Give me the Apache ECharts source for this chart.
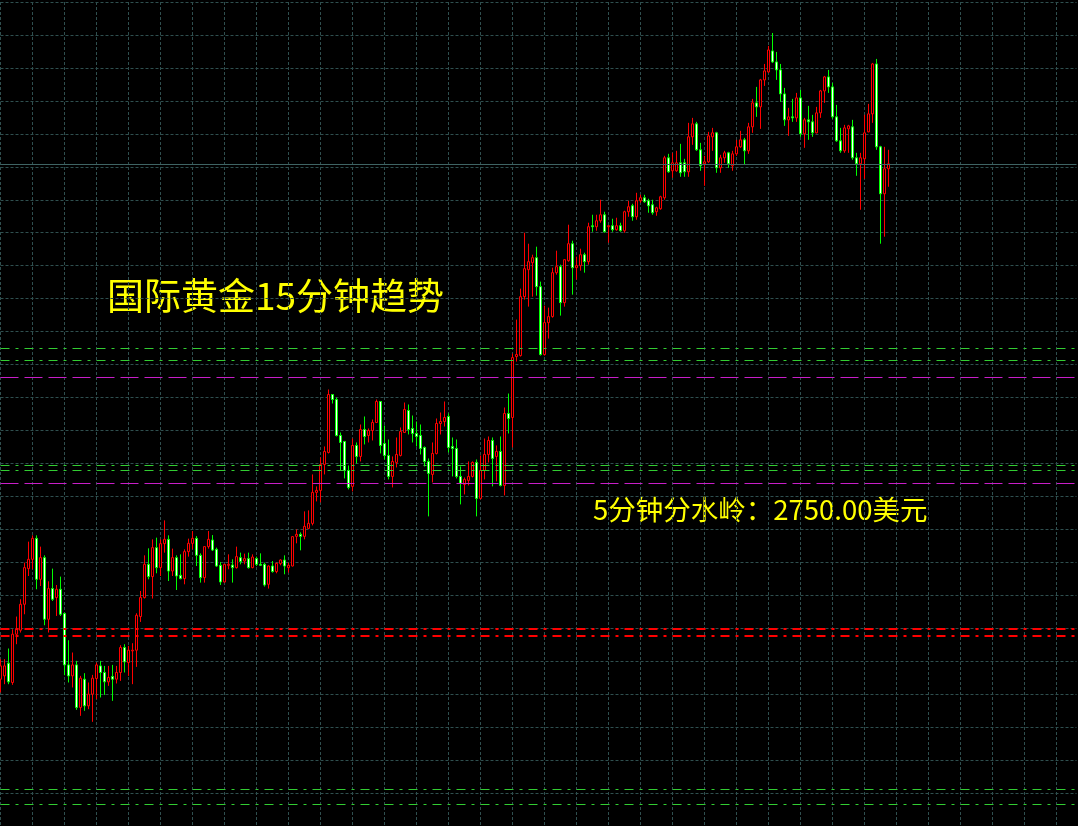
<!DOCTYPE html>
<html>
<head>
<meta charset="utf-8">
<script src="https://cdn.jsdelivr.net/npm/echarts@6/dist/echarts.min.js"></script>
<style>
html,body{margin:0;padding:0;background:#000;}
#chart{width:1078px;height:826px;}
</style>
</head>
<body>
<div id="chart"></div>
<script>
// 15-minute bars (index labels)
const barCount = 270;
const categories = Array.from({length: barCount}, (_, i) => 'B' + i);

const opens = [2733.9,2734.23,2735.5,2733.57,2738.4,2738.8,2741.4,2744.97,2745.9,2748.0,
2743.9,2746.07,2739.9,2742.97,2742.07,2742.9,2740.47,2735.33,2734.23,2735.33,
2731.07,2733.9,2731.23,2732.4,2733.97,2735.23,2734.57,2733.63,2734.17,2733.9,
2734.57,2737.07,2735.57,2736.73,2736.8,2740.17,2742.07,2745.4,2744.17,2747.07,
2745.07,2747.47,2747.9,2744.73,2746.07,2744.3,2743.97,2746.67,2747.5,2748.0,
2746.3,2744.07,2747.17,2747.83,2746.9,2745.3,2743.63,2745.3,2745.33,2745.07,
2746.07,2745.73,2745.97,2745.07,2745.97,2745.4,2745.4,2743.4,2745.23,2744.67,
2745.47,2745.83,2745.07,2745.23,2748.2,2748.4,2748.2,2749.0,2749.5,2752.6,
2752.8,2755.4,2756.6,2762.4,2761.9,2758.3,2757.7,2754.8,2753.2,2757.3,
2756.2,2758.9,2758.3,2758.8,2759.6,2761.7,2757.5,2756.3,2754.2,2755.6,
2756.3,2758.6,2760.8,2759.0,2758.5,2758.3,2757.1,2755.7,2754.4,2756.5,
2759.5,2759.7,2760.2,2757.2,2757.0,2754.2,2753.4,2753.8,2754.2,2755.6,
2752.0,2754.8,2756.4,2757.8,2756.2,2756.7,2753.3,2760.5,2760.1,2766.2,
2766.3,2772.2,2774.9,2775.6,2776.1,2773.2,2766.4,2769.6,2770.2,2774.6,
2775.2,2771.6,2775.8,2777.5,2775.1,2775.3,2776.4,2775.7,2779.3,2779.2,
2779.8,2780.4,2779.2,2779.3,2778.9,2779.3,2778.8,2780.7,2781.3,2780.2,
2781.8,2782.1,2781.8,2781.4,2780.7,2781.0,2782.1,2786.1,2784.8,2784.8,
2785.6,2785.6,2784.7,2788.2,2789.5,2786.9,2785.5,2785.7,2788.2,2788.6,
2785.1,2786.1,2786.6,2785.3,2786.5,2787.2,2787.9,2786.8,2789.2,2791.6,
2791.2,2793.9,2794.7,2796.8,2795.7,2794.9,2792.5,2789.9,2790.2,2790.1,
2792.1,2788.5,2789.9,2789.7,2788.6,2790.6,2792.8,2794.2,2793.2,2790.2,
2787.8,2786.8,2789.0,2789.2,2786.1,2785.5,2786.0,2788.7,2790.5,2795.5,
2787.2,2782.5,2785.0];

const closes = [2735.23,2735.23,2733.63,2738.4,2738.9,2741.4,2745.07,2745.9,2748.0,2743.9,
2746.07,2739.9,2742.97,2741.9,2742.9,2740.4,2735.33,2734.23,2735.33,2731.07,
2734.0,2731.23,2732.4,2734.0,2735.33,2734.57,2733.63,2734.07,2733.9,2734.57,
2737.07,2735.63,2736.8,2736.8,2740.3,2742.07,2745.4,2744.17,2747.07,2745.07,
2747.47,2747.9,2744.73,2746.07,2744.23,2743.97,2746.67,2747.5,2748.0,2746.3,
2744.07,2747.17,2747.9,2746.83,2745.23,2743.63,2745.4,2745.4,2745.07,2746.17,
2745.67,2745.97,2745.07,2746.13,2745.4,2745.3,2743.33,2745.23,2744.67,2745.5,
2745.83,2745.23,2745.3,2748.17,2748.4,2748.2,2749.2,2749.5,2752.6,2752.8,
2755.4,2756.7,2762.4,2761.9,2758.3,2757.6,2754.8,2753.1,2757.3,2756.2,
2758.9,2758.2,2758.8,2759.6,2761.7,2757.3,2756.3,2754.2,2755.7,2756.4,
2758.7,2760.9,2758.9,2758.5,2758.2,2757.0,2755.7,2754.5,2756.5,2759.5,
2759.7,2760.1,2757.1,2757.0,2754.2,2753.5,2753.9,2754.2,2755.6,2752.0,
2754.8,2756.4,2757.8,2756.0,2756.7,2753.3,2760.5,2760.0,2766.1,2766.4,
2772.2,2775.0,2775.7,2776.1,2773.2,2766.4,2769.6,2770.2,2774.6,2775.2,
2771.6,2775.9,2777.5,2775.1,2775.3,2776.4,2775.7,2779.2,2779.2,2779.8,
2780.4,2778.7,2779.3,2778.9,2779.3,2778.8,2780.7,2781.2,2780.2,2781.8,
2782.1,2781.7,2781.3,2780.6,2781.1,2782.2,2786.1,2784.7,2785.6,2785.6,
2784.6,2784.7,2788.2,2789.5,2786.9,2785.3,2785.7,2788.3,2788.6,2785.1,
2786.1,2786.6,2785.5,2786.5,2787.2,2787.9,2786.8,2789.2,2791.6,2791.2,
2793.9,2794.8,2796.9,2795.7,2794.9,2792.5,2789.9,2790.2,2790.1,2792.1,
2788.5,2789.9,2789.7,2788.6,2790.6,2792.8,2794.2,2793.2,2790.2,2787.8,
2786.8,2789.1,2789.3,2786.1,2785.5,2786.1,2788.6,2790.5,2795.5,2787.2,
2782.5,2785.0,2785.5];

const lows = [2732.57,2733.4,2733.4,2733.33,2737.4,2738.57,2740.4,2744.23,2744.9,2742.9,
2743.23,2739.3,2738.57,2741.73,2740.23,2740.23,2734.3,2733.57,2733.07,2730.83,
2730.23,2730.73,2730.9,2729.63,2731.9,2732.07,2732.33,2733.23,2731.73,2733.47,
2733.73,2734.57,2734.23,2733.4,2735.13,2739.63,2741.97,2743.9,2741.97,2744.5,
2744.23,2746.57,2743.73,2744.23,2742.83,2743.9,2743.4,2746.17,2746.9,2745.23,
2743.57,2743.57,2746.97,2746.73,2745.13,2743.33,2743.57,2744.9,2743.57,2744.97,
2745.4,2745.4,2744.97,2745.0,2745.23,2745.23,2743.17,2742.97,2744.57,2744.5,
2745.3,2744.4,2744.57,2745.2,2747.5,2746.8,2747.9,2748.95,2749.3,2751.7,
2751.6,2754.4,2756.5,2761.5,2758.2,2754.8,2754.0,2752.9,2752.7,2755.5,
2755.7,2757.4,2757.6,2757.8,2759.55,2756.5,2755.9,2753.9,2753.1,2755.1,
2756.2,2758.55,2758.4,2757.6,2757.2,2756.4,2755.2,2750.2,2753.6,2756.4,
2758.4,2759.2,2756.6,2754.2,2754.0,2751.4,2752.4,2753.3,2754.1,2750.2,
2751.9,2753.9,2755.6,2753.2,2753.7,2753.2,2752.3,2758.5,2757.1,2765.7,
2766.2,2771.9,2771.2,2772.2,2772.3,2766.3,2766.3,2768.0,2770.1,2774.4,
2770.3,2771.2,2775.7,2772.4,2773.9,2774.8,2774.6,2775.4,2778.7,2778.8,
2779.6,2778.6,2777.6,2778.7,2778.8,2778.7,2778.6,2780.2,2779.8,2779.9,
2781.6,2781.6,2780.6,2780.4,2780.3,2780.9,2781.9,2784.6,2784.1,2784.7,
2784.2,2784.2,2784.2,2787.4,2786.8,2784.8,2783.3,2785.6,2786.8,2784.6,
2784.6,2785.6,2785.1,2784.8,2786.3,2787.1,2785.4,2786.5,2788.6,2790.2,
2789.0,2793.3,2794.6,2795.6,2793.9,2791.7,2789.3,2788.3,2789.7,2789.7,
2788.2,2787.1,2787.9,2788.2,2788.55,2790.1,2791.6,2792.6,2790.0,2787.7,
2786.6,2786.6,2786.6,2785.9,2784.3,2780.9,2784.0,2788.65,2789.6,2786.9,
2777.5,2778.2,2783.2];

const highs = [2735.9,2735.9,2736.97,2738.9,2740.17,2741.9,2745.57,2747.67,2748.3,2748.3,
2747.17,2746.3,2743.7,2744.97,2743.33,2744.17,2740.57,2737.8,2736.57,2735.73,
2734.23,2734.5,2733.57,2734.33,2735.57,2735.73,2735.23,2735.23,2735.33,2735.23,
2737.3,2737.4,2737.23,2737.5,2740.5,2742.73,2746.3,2747.0,2747.9,2748.07,
2747.9,2749.8,2748.3,2746.97,2746.3,2746.4,2746.9,2747.97,2748.73,2748.23,
2746.5,2747.2,2748.73,2748.33,2747.07,2745.63,2745.43,2746.4,2745.9,2747.17,
2746.57,2746.47,2746.57,2746.4,2746.17,2746.5,2745.57,2745.3,2745.73,2745.57,
2745.9,2746.3,2745.57,2748.23,2748.9,2748.6,2750.7,2750.8,2754.4,2753.2,
2756.1,2757.2,2762.9,2762.45,2762.1,2758.6,2757.75,2755.3,2758.0,2757.6,
2759.4,2760.2,2759.0,2759.9,2761.9,2761.75,2759.3,2757.9,2756.2,2758.1,
2759.1,2761.6,2761.4,2760.3,2759.7,2759.4,2757.2,2756.0,2757.6,2760.0,
2760.6,2761.7,2760.5,2758.1,2757.9,2755.2,2754.1,2755.7,2755.7,2755.9,
2756.3,2758.0,2758.2,2758.1,2757.3,2758.2,2761.1,2762.5,2766.5,2769.9,
2773.0,2778.6,2777.5,2776.4,2777.2,2773.7,2771.3,2771.1,2775.1,2776.8,
2775.4,2775.95,2779.4,2777.8,2776.2,2777.0,2776.6,2779.6,2780.4,2780.4,
2781.9,2780.7,2779.35,2780.0,2780.1,2779.6,2780.8,2781.8,2781.5,2782.6,
2782.4,2782.4,2782.0,2781.9,2781.2,2782.3,2786.3,2786.5,2786.6,2786.8,
2787.5,2786.0,2789.6,2790.1,2789.7,2787.6,2786.3,2788.7,2789.1,2788.7,
2786.4,2786.8,2786.7,2786.8,2787.9,2788.8,2788.1,2789.6,2792.0,2793.2,
2794.0,2795.5,2797.3,2798.6,2796.7,2795.5,2793.1,2791.1,2792.0,2792.6,
2792.9,2790.1,2791.3,2790.4,2791.2,2792.9,2794.3,2794.9,2793.6,2791.4,
2789.1,2789.4,2789.4,2789.9,2786.6,2786.6,2790.4,2791.5,2795.6,2796.0,
2787.3,2787.2,2786.9];

// horizontal reference levels
const greenLevels = [2767.05, 2765.85, 2755.35, 2754.85, 2722.85, 2721.35];
const magentaLevels = [2764.15, 2753.55];
const redLevels = [2738.9, 2738.2];
const lastPrice = 2785.45;

// texts
const titleText = '国际黄金15分钟趋势';
const noteText = '5分钟分水岭：2750.00美元';

const candleData = opens.map((o, i) => [o, closes[i], lows[i], highs[i]]);

const markData = [];
greenLevels.forEach(v => markData.push({yAxis: v, lineStyle: {color: '#32cd32', width: 1, type: [9, 6, 3, 6]}}));
magentaLevels.forEach(v => markData.push({yAxis: v, lineStyle: {color: '#c81ec8', width: 1, type: [18, 6]}}));
redLevels.forEach(v => markData.push({yAxis: v, lineStyle: {color: '#ff0000', width: 2, type: [9, 6, 3, 6]}}));
markData.push({yAxis: lastPrice, lineStyle: {color: '#3f6464', width: 1, type: 'solid'}});

const chart = echarts.init(document.getElementById('chart'), null, {renderer: 'canvas'});
chart.setOption({
  backgroundColor: '#000000',
  animation: false,
  grid: {left: 0.5, right: 1.5, top: 2, height: 825},
  xAxis: {
    type: 'category',
    data: categories,
    boundaryGap: false,
    axisLine: {show: false},
    axisTick: {show: false},
    axisLabel: {show: false},
    splitLine: {show: true, interval: 7, lineStyle: {color: '#2f4f4f', width: 1, type: [3, 2]}}
  },
  yAxis: {
    type: 'value',
    min: 2719.2,
    max: 2801.7,
    interval: 3.3,
    axisLine: {show: false},
    axisTick: {show: false},
    axisLabel: {show: false},
    splitLine: {show: true, lineStyle: {color: '#2f4f4f', width: 1, type: [3, 2]}}
  },
  series: [{
    type: 'candlestick',
    data: candleData,
    barWidth: 2,
    itemStyle: {
      color: '#000000',
      color0: '#ffffff',
      borderColor: '#ff0000',
      borderColor0: '#00ff00',
      borderColorDoji: '#ff0000',
      borderWidth: 1
    },
    markLine: {
      silent: true,
      symbol: ['none', 'none'],
      label: {show: false},
      data: markData
    }
  }],
  graphic: [
    {type: 'text', left: 107, top: 277, style: {text: titleText, fill: '#ffff00', font: '37px "Noto Sans CJK SC", sans-serif'}},
    {type: 'text', left: 593, top: 496, style: {text: noteText, fill: '#ffff00', font: '27.5px "Noto Sans CJK SC", sans-serif'}}
  ]
});
</script>
</body>
</html>
